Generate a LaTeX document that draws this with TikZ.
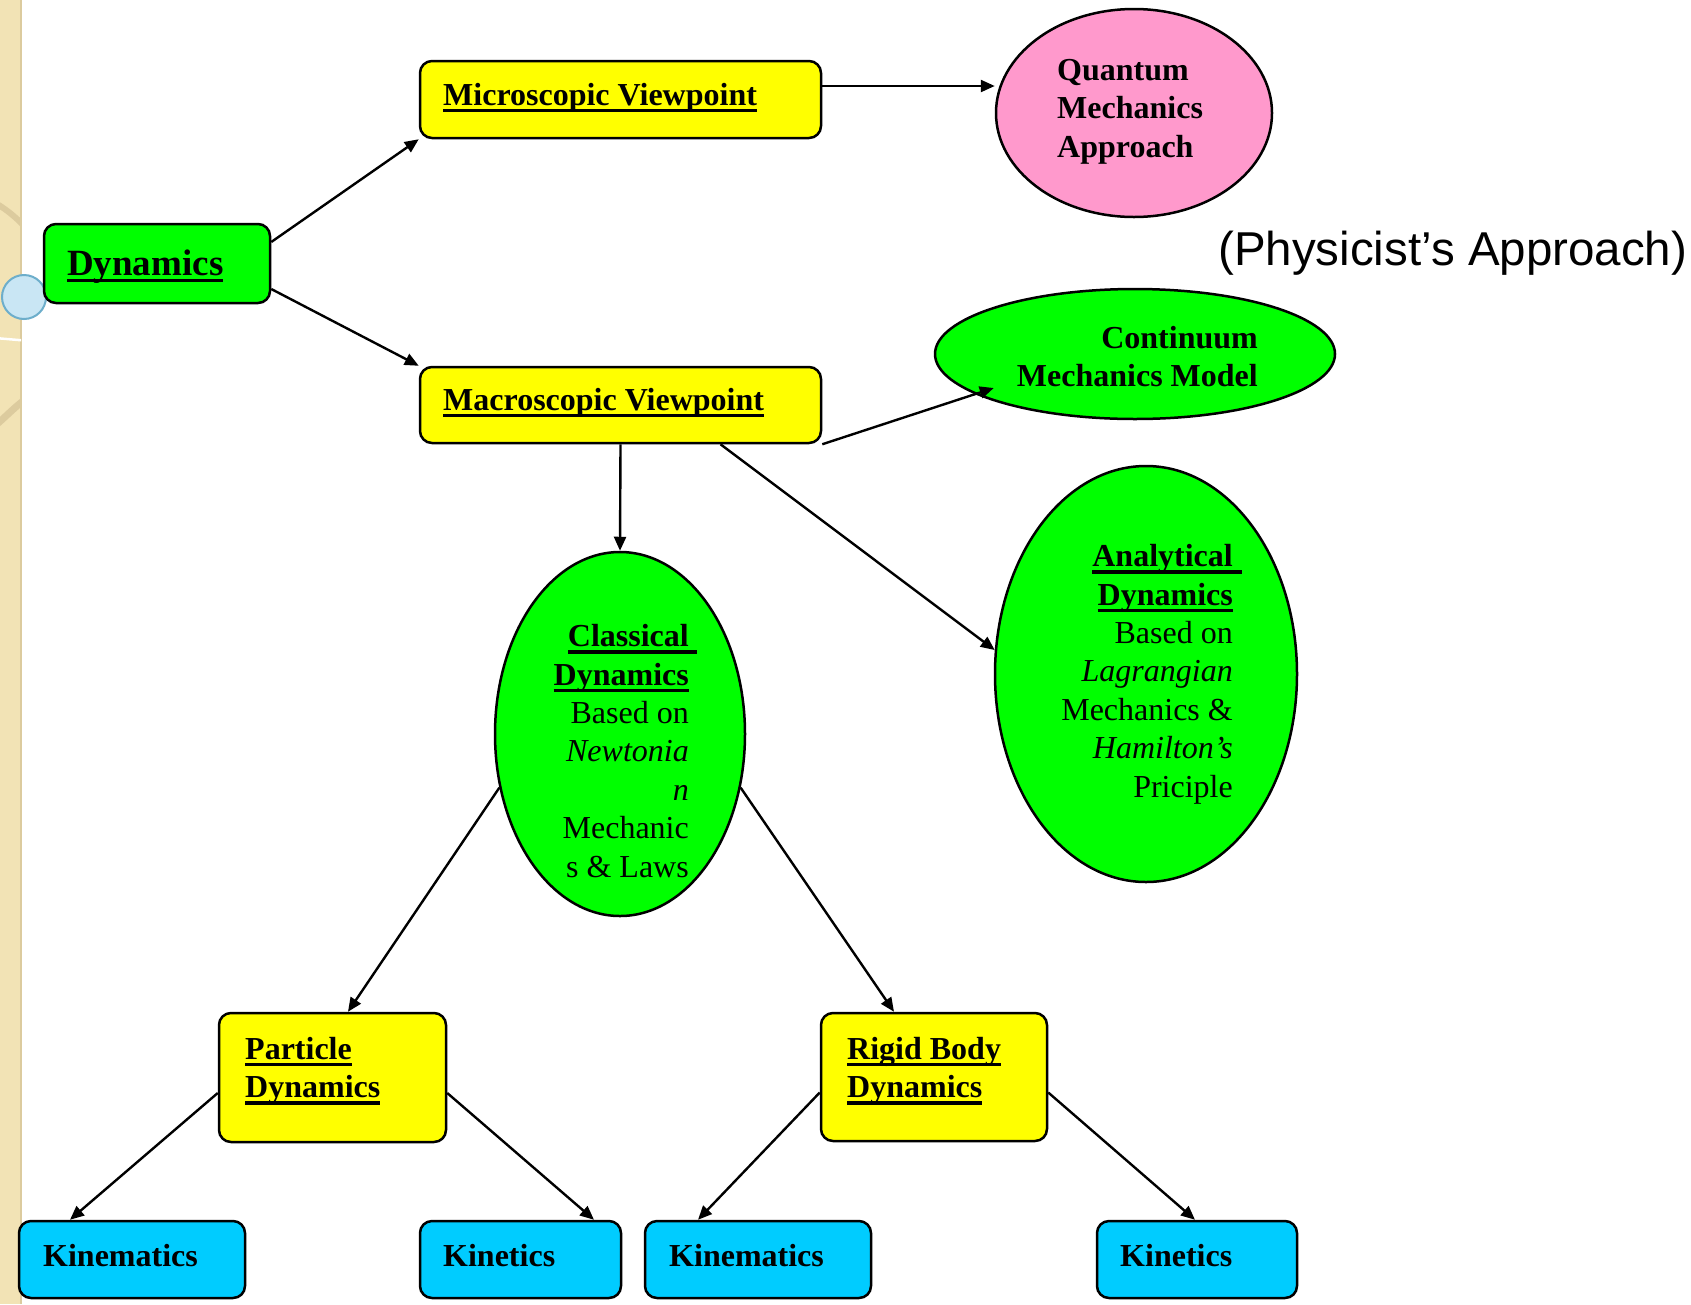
\documentclass[tikz,border=0pt]{standalone}
\usepackage{fontspec}
\setmainfont{Liberation Serif}
\newfontfamily\arialf{Liberation Sans}
\usetikzlibrary{shapes.geometric,arrows.meta,calc}
\definecolor{yel}{HTML}{FFFF00}
\definecolor{grn}{HTML}{00FF00}
\definecolor{cyn}{HTML}{00CCFF}
\definecolor{pnk}{HTML}{FF99CC}
\definecolor{stripc}{HTML}{F2E3B5}
\definecolor{bandc}{HTML}{DCCB9E}
\definecolor{ballfill}{HTML}{C9E6F4}
\definecolor{balledge}{HTML}{6DAECB}
\newcommand\myul[2][0pt]{\setbox0\hbox{#2}\rlap{\rule[-7pt]{\dimexpr\wd0+#1\relax}{3.3pt}}\box0}
\tikzset{
  box/.style={draw=black, line width=2.5pt, rounded corners=12pt, inner sep=0pt},
  ell/.style={ellipse, draw=black, line width=2.5pt, inner sep=0pt},
  txt/.style={inner sep=0pt, font=\fontsize{32}{38.4}\selectfont\bfseries},
  rtxt/.style={inner sep=0pt, font=\fontsize{32}{38.4}\selectfont},
  arr/.style={-{Triangle[length=14pt,width=12pt]}, line width=2.4pt},
}
\begin{document}
\begin{tikzpicture}[x=1pt,y=-1pt]
\useasboundingbox (0,0) rectangle (1691,1304);
\fill[white] (0,0) rectangle (1691,1304);
% left decorative strip
\fill[stripc] (0,0) rectangle (21,1304);
\draw[color=bandc, line width=1.5pt] (21,0) -- (21,1304);
\begin{scope}
\clip (0,0) rectangle (21,1304);
\draw[color=bandc, line width=6pt] (-10,200) .. controls (5,208) and (15,216) .. (30,232);
\draw[color=white, line width=2.5pt] (-5,338) -- (30,341);
\draw[color=bandc, line width=7pt] (-10,430) .. controls (5,418) and (15,406) .. (30,396);
\end{scope}
\node[circle, fill=ballfill, draw=balledge, line width=2pt, minimum size=44pt, inner sep=0pt] (ball) at (24,297) {};

% boxes
\node[box, fill=grn, minimum width=226pt, minimum height=79pt] (dyn) at (157,263.5) {};
\node[box, fill=yel, minimum width=401pt, minimum height=77pt] (micro) at (620.5,99.5) {};
\node[box, fill=yel, minimum width=401pt, minimum height=76pt] (macro) at (620.5,405) {};
\node[box, fill=yel, minimum width=227pt, minimum height=129pt] (part) at (332.5,1077.5) {};
\node[box, fill=yel, minimum width=226pt, minimum height=128pt] (rigid) at (934,1077) {};
\node[box, fill=cyn, minimum width=226pt, minimum height=77pt] (kin1) at (132,1259.5) {};
\node[box, fill=cyn, minimum width=201pt, minimum height=77pt] (kt1) at (520.5,1259.5) {};
\node[box, fill=cyn, minimum width=226pt, minimum height=77pt] (kin2) at (758,1259.5) {};
\node[box, fill=cyn, minimum width=200pt, minimum height=77pt] (kt2) at (1197,1259.5) {};

% ellipses
\node[ell, fill=pnk, minimum width=276pt, minimum height=208pt] (quant) at (1134,113) {};
\node[ell, fill=grn, minimum width=400pt, minimum height=130pt] (cont) at (1135,354) {};
\node[ell, fill=grn, minimum width=302pt, minimum height=416pt] (ana) at (1146,674) {};
\node[ell, fill=grn, minimum width=250pt, minimum height=364pt] (class) at (620,734) {};

% texts (multi-line nodes: base anchor = baseline of last line)
\node[inner sep=0pt, font=\fontsize{37}{44}\selectfont\bfseries, anchor=base west] (dynT) at (67,275) {\myul{Dynamics}};
\node[txt, anchor=base west] (microT) at (443,105) {\myul{Microscopic Viewpoint}};
\node[txt, anchor=base west] (macroT) at (443,410) {\myul{Macroscopic Viewpoint}};
\node[txt, anchor=base west, align=left] (partT) at (245,1097.5) {\myul{Particle}\\\myul{Dynamics}};
\node[txt, anchor=base west, align=left] (rigidT) at (847,1097.5) {\myul{Rigid Body}\\\myul{Dynamics}};
\node[txt, anchor=base west] (kin1T) at (43,1266) {Kinematics};
\node[txt, anchor=base west] (kt1T) at (443,1266) {Kinetics};
\node[txt, anchor=base west] (kin2T) at (669,1266) {Kinematics};
\node[txt, anchor=base west] (kt2T) at (1120,1266) {Kinetics};
\node[txt, anchor=base west, align=left] (quantT) at (1057,157) {Quantum\\Mechanics\\Approach};
\node[txt, anchor=base east, align=right] (contT) at (1258,386.5) {Continuum\\Mechanics Model};
\node[rtxt, anchor=base east, align=right] (classT) at (689,877) {{\bfseries\myul[8pt]{Classical}}\\{\bfseries\myul{Dynamics}}\\Based on\\{\itshape Newtonia}\\{\itshape n}\\Mechanic\\s \& Laws};
\node[rtxt, anchor=base east, align=right] (anaT) at (1233,797) {{\bfseries\myul[9pt]{Analytical}}\\{\bfseries\myul{Dynamics}}\\Based on\\{\itshape Lagrangian}\\Mechanics \&\\{\itshape Hamilton’s}\\Priciple\hspace{8pt}};
\node[inner sep=0pt, font=\arialf\fontsize{47.5}{56}\selectfont, anchor=base west] (phys) at (1218,265) {(Physicist’s Approach)};

% connectors
\draw[arr] ([yshift=21.5pt]dyn.east) -- (micro.south west);
\draw[arr] ([yshift=-25.5pt]dyn.east) -- (macro.north west);
\draw[arr] ([yshift=13.5pt]micro.east) -- ([yshift=13.5pt]micro.east -| quant.west);
\draw[arr] (macro.south east) -- ($(cont.west)+(60,34)$);
\draw[arr] (macro.south) -- (class.north);
\draw[arr] ([xshift=100pt]macro.south) -- (ana.171);
\draw[arr] (class.204) -- ([xshift=15.5pt]part.north);
\draw[arr] (class.-24) -- ([xshift=-40pt]rigid.north);
\draw[arr] ([yshift=-15.5pt]part.west) -- ([xshift=-62pt]kin1.north);
\draw[arr] ([yshift=-15.5pt]part.east) -- ([xshift=73.5pt]kt1.north);
\draw[arr] ([yshift=-15.5pt]rigid.west) -- ([xshift=-60pt]kin2.north);
\draw[arr] ([yshift=-15.5pt]rigid.east) -- ([xshift=-2pt]kt2.north);
\end{tikzpicture}
\end{document}
